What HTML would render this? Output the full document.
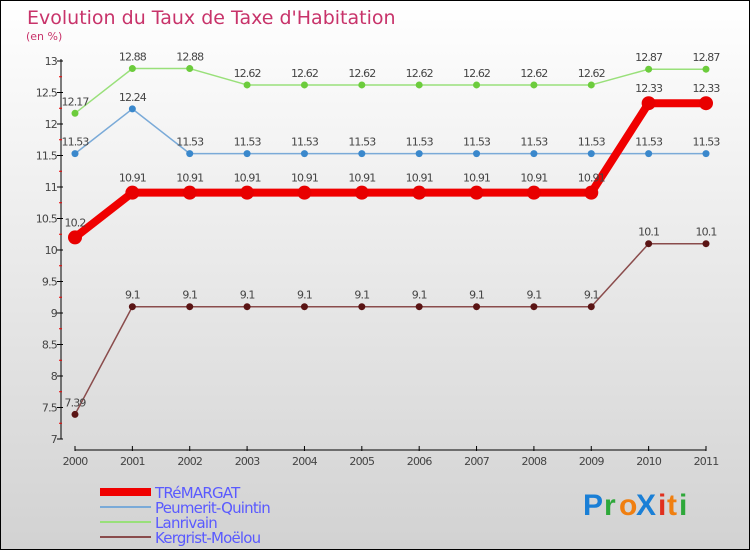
<!DOCTYPE html>
<html><head><meta charset="utf-8"><style>
body{margin:0;}
#wrap{width:750px;height:550px;position:relative;overflow:hidden;}
svg{display:block;font-family:"DejaVu Sans","Liberation Sans",sans-serif;}
</style></head><body>
<div id="wrap">
<svg id="chart" width="750" height="550">
<defs><linearGradient id="bg" x1="0" y1="0" x2="0" y2="1"><stop offset="0" stop-color="#ffffff"/><stop offset="1" stop-color="#d2d2d2"/></linearGradient></defs>
<rect x="0.5" y="0.5" width="749" height="549" fill="url(#bg)" stroke="#000"/>
<text x="27" y="24" font-size="19" fill="#c8336a">Evolution du Taux de Taxe d'Habitation</text>
<text x="26" y="40" font-size="11" fill="#c8336a">(en %)</text>
<g id="axes"></g><g id="series"></g><g id="legend"></g>
<g font-size="30" font-weight="bold" font-family="'Liberation Sans',sans-serif">
<text x="583" y="515" fill="#1a7fd6">P</text><text x="604" y="515" fill="#2ea83a">r</text><text x="619" y="515" fill="#f07f10">o</text><text x="636" y="515" fill="#1a7fd6">X</text><text x="658" y="515" fill="#e0301e">i</text><text x="667" y="515" fill="#f07f10">t</text><text x="679" y="515" fill="#2ea83a">i</text>
</g>
</svg></div>
<script>
const years=["2000","2001","2002","2003","2004","2005","2006","2007","2008","2009","2010","2011"];
const tremargat=[10.2,10.91,10.91,10.91,10.91,10.91,10.91,10.91,10.91,10.91,12.33,12.33];
const peumerit=[11.53,12.24,11.53,11.53,11.53,11.53,11.53,11.53,11.53,11.53,11.53,11.53];
const lanrivain=[12.17,12.88,12.88,12.62,12.62,12.62,12.62,12.62,12.62,12.62,12.87,12.87];
const kergrist=[7.39,9.1,9.1,9.1,9.1,9.1,9.1,9.1,9.1,9.1,10.1,10.1];
const yTicks=[7,7.5,8,8.5,9,9.5,10,10.5,11,11.5,12,12.5,13];
const seriesNames=["TRéMARGAT","Peumerit-Quintin","Lanrivain","Kergrist-Moëlou"];
const NS="http://www.w3.org/2000/svg";
const x=i=>75+i*(706-75)/11;
const y=v=>439-(v-7)*63;
function el(t,a,p){const e=document.createElementNS(NS,t);for(const k in a)e.setAttribute(k,a[k]);p.appendChild(e);return e;}
const axes=document.getElementById('axes');
const yl=el('line',{x1:61,y1:59,x2:61,y2:439,stroke:'#000'},axes);


yTicks.forEach(v=>{
  el('line',{x1:57,x2:63,y1:y(v),y2:y(v),stroke:'#000'},axes);
  if(v<13){const m=el('line',{x1:59,x2:62,y1:y(v+0.25),y2:y(v+0.25),stroke:'#e00'},axes);}
  const t=el('text',{x:57,y:y(v)+4,'font-size':11,'text-anchor':'end',fill:'#444','letter-spacing':'-0.8'},axes);
  t.textContent=String(v);
  
  
});
const xl=el('line',{x1:75,y1:450,x2:706,y2:450,stroke:'#000'},axes);


years.forEach((yr,i)=>{
  el('line',{x1:x(i),x2:x(i),y1:446,y2:451,stroke:'#000'},axes);
  const t=el('text',{x:x(i),y:465,'font-size':11,'text-anchor':'middle',fill:'#444','letter-spacing':'-0.8'},axes);
  t.textContent=yr;
  
  
});
const sg=document.getElementById('series');
const defs=[
 {d:lanrivain,c:'#99e07a',dc:'#6ccc3c',w:1.5,r:3.5,n:'lanrivain'},
 {d:peumerit,c:'#7aaad8',dc:'#3a88cc',w:1.5,r:3.5,n:'peumerit-quintin'},
 {d:kergrist,c:'#8a4c4c',dc:'#5a1414',w:1.5,r:3.5,n:'kergrist-moelou'},
 {d:tremargat,c:'#f00000',dc:'#e80000',w:8,r:7,n:'tremargat'}];
defs.forEach(s=>{
  const g=el('g',{},sg);
  
  
  const p=el('polyline',{points:s.d.map((v,i)=>x(i)+','+y(v)).join(' '),fill:'none',stroke:s.c,'stroke-width':s.w,'stroke-linejoin':'round'},g);
  
  
  s.d.forEach((v,i)=>{
    const c=el('circle',{cx:x(i),cy:y(v),r:s.r,fill:s.dc},g);
    
    
    const t=el('text',{x:x(i),y:y(v)-8-(s.w>2?3:0),'font-size':11,'text-anchor':'middle',fill:'#444','letter-spacing':'-0.9'},g);
    t.textContent=String(v);
    
    
  });
});
const lg=document.getElementById('legend');
const lc=[['#f00000',8],['#7aaad8',2],['#99e07a',2],['#8a4c4c',2]];
seriesNames.forEach((n,i)=>{
  const yy=492+i*15;
  const g=el('g',{},lg);
  
  
  el('line',{x1:100,x2:151,y1:yy,y2:yy,stroke:lc[i][0],'stroke-width':lc[i][1]},g);
  const t=el('text',{x:155,y:yy+6,'font-size':15,fill:'#5a5aff','letter-spacing':'-0.8'},g);
  t.textContent=n;
  
  
});
</script>
</body></html>
